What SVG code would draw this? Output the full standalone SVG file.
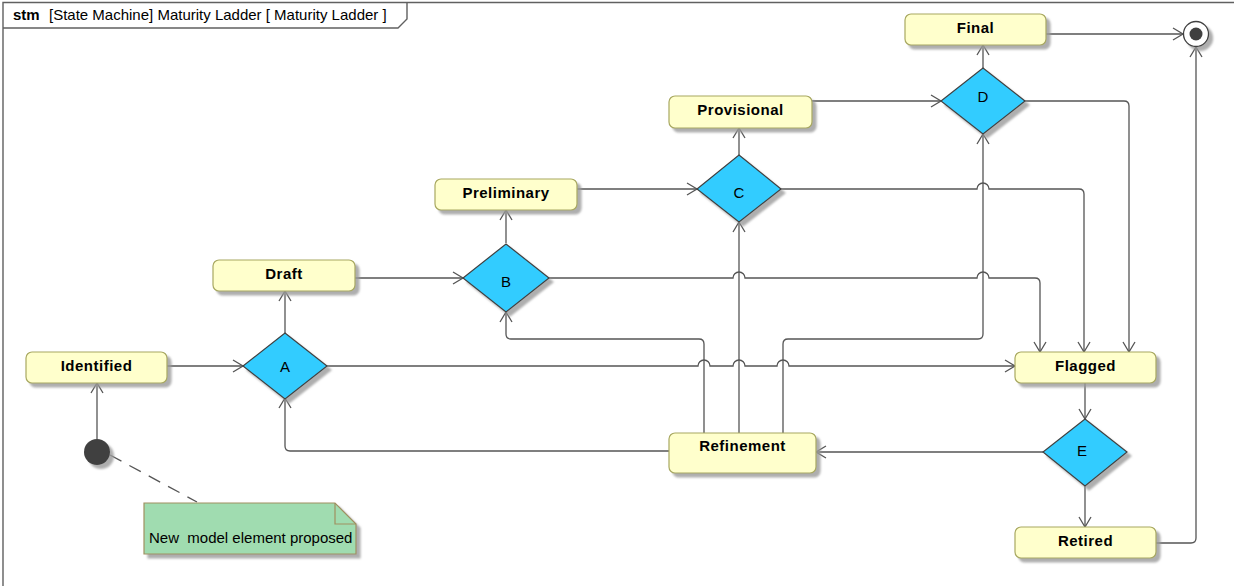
<svg xmlns="http://www.w3.org/2000/svg" width="1234" height="586" viewBox="0 0 1234 586">
  <style>
    .state { fill: #FFFFCC; stroke: #A8A860; stroke-width: 1.2; }
    .choice { fill: #33CCFF; stroke: #404040; stroke-width: 1.2; }
    .sname { font-family: "Liberation Sans", Arial, sans-serif; font-size: 15px; font-weight: bold; letter-spacing: 0.5px; fill: #000; text-anchor: middle; }
    .cname { font-family: "Liberation Sans", Arial, sans-serif; font-size: 15px; fill: #000; text-anchor: middle; }
    .edge { fill: none; stroke: #555555; stroke-width: 1.3; marker-end: url(#open); }
    .title { font-family: "Liberation Sans", Arial, sans-serif; font-size: 15px; fill: #000; }
    .note { fill: #A0DCB0; stroke: #A09060; stroke-width: 1.2; }
  </style>
  <defs>
    <marker id="open" markerUnits="userSpaceOnUse" markerWidth="14" markerHeight="14" refX="10" refY="6" orient="auto" viewBox="-1 -1 13 14">
      <path d="M0,0 L10,6 L0,12" fill="none" stroke="#555555" stroke-width="1.3"/>
    </marker>
    <filter id="shadow" x="-20%" y="-20%" width="150%" height="160%">
      <feDropShadow dx="4" dy="4" stdDeviation="1.2" flood-color="#9a9a9a" flood-opacity="0.8"/>
    </filter>
  </defs>

  <rect width="1234" height="586" fill="#FFFFFF"/>

  <!-- diagram frame with name tab -->
  <g id="frame">
    <path d="M3,586 L3,2.5 L1234,2.5" fill="none" stroke="#606060" stroke-width="1.4"/>
    <path d="M3,28 L398,28 L407,19 L407,2.5" fill="none" stroke="#606060" stroke-width="1.4"/>
    <text class="title" x="13" y="20" font-size="14" font-weight="bold">stm</text>
    <text class="title" x="49" y="20">[State Machine] Maturity Ladder [ Maturity Ladder ]</text>
  </g>

  <!-- transitions -->
  <g id="connectors">
    <path class="edge" d="M97,439 L97,383"/>
    <path class="edge" d="M167,366 L243,366"/>
    <path class="edge" d="M285,333 L285,291"/>
    <path class="edge" d="M355,278 L463,278"/>
    <path class="edge" d="M506,243 L506,210"/>
    <path class="edge" d="M577,189 L697,189"/>
    <path class="edge" d="M739,155 L739,128"/>
    <path class="edge" d="M812,101 L941,101"/>
    <path class="edge" d="M983,68 L983,45"/>
    <path class="edge" d="M1046,34 L1183,34"/>
    <path class="edge" d="M1156,543 L1191,543 Q1196,543 1196,538 L1196,47"/>
    <path class="edge" d="M326,366 L698,366 A6,6 0 0 1 710,366 L733,366 A6,6 0 0 1 745,366 L777,366 A6,6 0 0 1 789,366 L1015,366"/>
    <path class="edge" d="M549,278 L733,278 A6,6 0 0 1 745,278 L977,278 A6,6 0 0 1 989,278 L1035,278 Q1040,278 1040,283 L1040,352"/>
    <path class="edge" d="M781,189 L977,189 A6,6 0 0 1 989,189 L1079,189 Q1084,189 1084,194 L1084,352"/>
    <path class="edge" d="M1025,101 L1124,101 Q1129,101 1129,106 L1129,352"/>
    <path class="edge" d="M1085,383 L1085,419"/>
    <path class="edge" d="M1085,486 L1085,527"/>
    <path class="edge" d="M1043,452 L816,452"/>
    <path class="edge" d="M669,451 L290,451 Q285,451 285,446 L285,398"/>
    <path class="edge" d="M704,433 L704,344 Q704,339 699,339 L511,339 Q506,339 506,334 L506,312"/>
    <path class="edge" d="M739,433 L739,222"/>
    <path class="edge" d="M783,433 L783,344 Q783,339 788,339 L978,339 Q983,339 983,334 L983,134"/>
    <path d="M110,455 L197,502" fill="none" stroke="#555555" stroke-width="1.3" stroke-dasharray="13,9"/>
  </g>

  <!-- pseudostates -->
  <g id="initial">
    <circle cx="97" cy="452" r="13" fill="#404040" filter="url(#shadow)"/>
  </g>
  <g id="final">
    <circle cx="1196" cy="34" r="12.5" fill="#FFFFFF" stroke="#404040" stroke-width="1.3" filter="url(#shadow)"/>
    <circle cx="1196" cy="34" r="6.5" fill="#404040"/>
  </g>

  <!-- states -->
  <g id="identified">
    <rect class="state" x="26" y="352" width="141" height="31" rx="6" filter="url(#shadow)"/>
    <text class="sname" x="96.5" y="371">Identified</text>
  </g>
  <g id="draft">
    <rect class="state" x="213" y="260" width="142" height="31" rx="6" filter="url(#shadow)"/>
    <text class="sname" x="284" y="279">Draft</text>
  </g>
  <g id="preliminary">
    <rect class="state" x="435" y="179" width="142" height="31" rx="6" filter="url(#shadow)"/>
    <text class="sname" x="506" y="198">Preliminary</text>
  </g>
  <g id="provisional">
    <rect class="state" x="669" y="96" width="143" height="32" rx="6" filter="url(#shadow)"/>
    <text class="sname" x="740.5" y="115">Provisional</text>
  </g>
  <g id="final-state">
    <rect class="state" x="905" y="14" width="141" height="31" rx="6" filter="url(#shadow)"/>
    <text class="sname" x="975.5" y="33">Final</text>
  </g>
  <g id="flagged">
    <rect class="state" x="1015" y="352" width="141" height="31" rx="6" filter="url(#shadow)"/>
    <text class="sname" x="1085.5" y="371">Flagged</text>
  </g>
  <g id="retired">
    <rect class="state" x="1015" y="527" width="141" height="31" rx="6" filter="url(#shadow)"/>
    <text class="sname" x="1085.5" y="546">Retired</text>
  </g>
  <g id="refinement">
    <rect class="state" x="669" y="433" width="147" height="40" rx="6" filter="url(#shadow)"/>
    <text class="sname" x="742.5" y="451">Refinement</text>
  </g>

  <!-- choice points -->
  <g id="choice-a">
    <polygon class="choice" points="285,333 327,366 285,399 243,366" filter="url(#shadow)"/>
    <text class="cname" x="285" y="372">A</text>
  </g>
  <g id="choice-b">
    <polygon class="choice" points="506,244 549,278 506,312 463,278" filter="url(#shadow)"/>
    <text class="cname" x="506" y="287">B</text>
  </g>
  <g id="choice-c">
    <polygon class="choice" points="739,155 781,189 739,222 697,189" filter="url(#shadow)"/>
    <text class="cname" x="739" y="198">C</text>
  </g>
  <g id="choice-d">
    <polygon class="choice" points="983,68 1025,101 983,134 941,101" filter="url(#shadow)"/>
    <text class="cname" x="983" y="102">D</text>
  </g>
  <g id="choice-e">
    <polygon class="choice" points="1085,419 1127,452 1085,486 1043,452" filter="url(#shadow)"/>
    <text class="cname" x="1082" y="456">E</text>
  </g>

  <!-- comment note -->
  <g id="note">
    <path class="note" d="M144,503 L335,503 L356,524 L356,554 L144,554 Z" filter="url(#shadow)"/>
    <path d="M335,503 L335,524 L356,524" fill="none" stroke="#A09060" stroke-width="1.2"/>
    <text class="title" x="149" y="543" style="white-space:pre" font-size="16">New  model element proposed</text>
  </g>
</svg>
